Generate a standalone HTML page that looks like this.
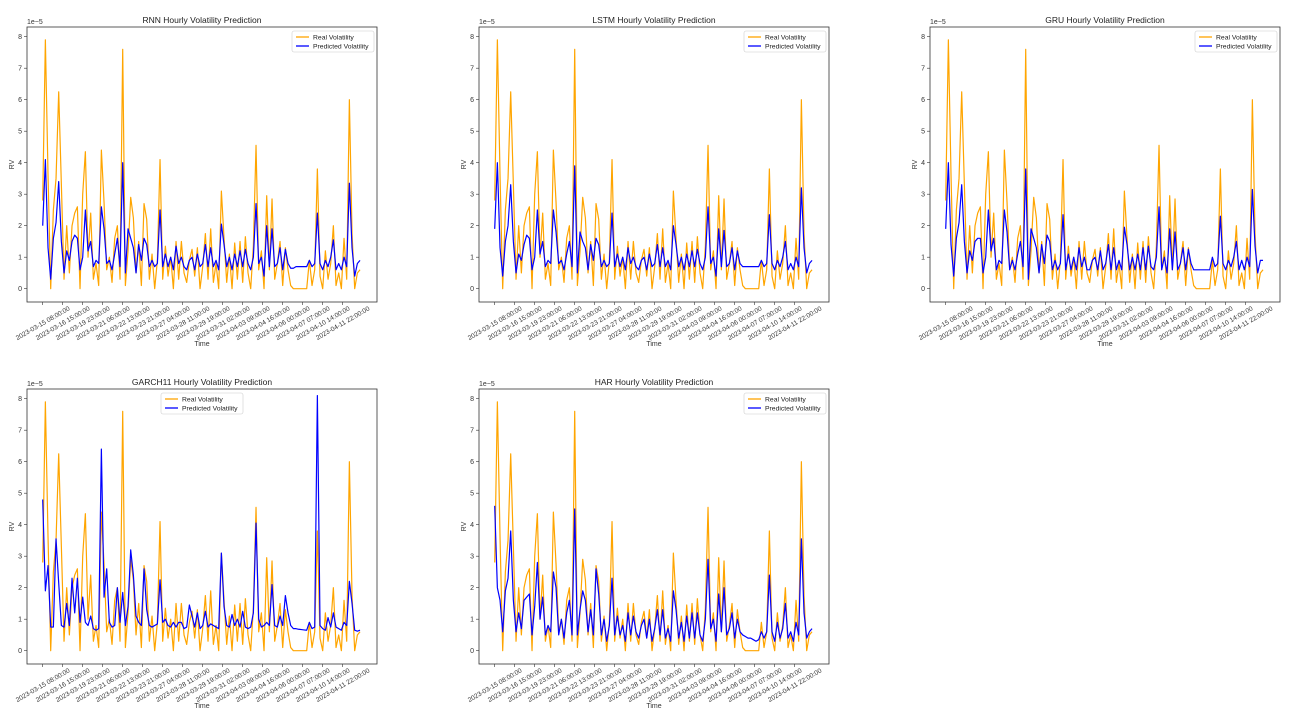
<!DOCTYPE html>
<html><head><meta charset="utf-8">
<style>
html,body{margin:0;padding:0;background:#fff;}
svg{display:block;font-family:"Liberation Sans",sans-serif;}
</style></head>
<body>
<svg id="fig" width="1290" height="720" viewBox="0 0 1290 720" xmlns="http://www.w3.org/2000/svg"></svg>
<script>
// hourly index step = 4 hours per point
const stepHours = 4;
const realVol = [2.8,7.9,3.6,0.0,2.5,3.5,6.25,3.3,0.3,2.0,0.5,2.0,2.4,2.6,0.0,3.0,4.35,1.0,2.4,0.3,0.8,0.1,4.4,2.75,0.6,1.0,0.2,1.6,2.0,0.3,7.6,0.1,1.2,2.9,2.25,0.5,1.5,0.1,2.7,2.2,0.3,1.1,0.0,0.9,4.1,0.3,1.35,0.4,1.0,0.0,1.5,0.3,1.5,0.5,0.2,0.9,1.25,0.4,1.3,0.0,0.7,1.75,0.3,1.9,0.2,0.8,0.0,3.1,1.6,0.2,1.1,0.0,1.45,0.3,1.5,0.2,1.65,0.5,0.0,1.35,4.55,0.6,1.2,0.0,2.95,0.6,2.85,0.3,0.8,1.5,0.1,1.3,0.6,0.1,0.0,0.0,0.0,0.0,0.0,0.0,0.9,0.1,0.6,3.8,0.4,0.0,1.2,0.3,0.8,2.0,0.1,0.5,0.0,1.6,0.3,6.0,1.75,0.0,0.5,0.6];
const rnnPred = [2.0,4.1,1.3,0.3,1.6,2.1,3.4,1.5,0.5,1.2,0.9,1.5,1.7,1.6,0.6,1.0,2.5,1.2,1.5,0.7,0.9,0.8,2.6,1.9,0.8,0.9,0.6,1.1,1.6,0.7,4.0,0.5,1.9,1.6,1.3,0.5,1.4,0.9,1.6,1.4,0.7,0.9,0.7,0.8,2.5,0.7,1.1,0.7,1.0,0.6,1.35,0.8,1.0,0.7,0.6,0.9,1.0,0.6,1.1,0.7,0.8,1.4,0.7,1.3,0.7,0.9,0.6,2.05,1.4,0.7,1.0,0.6,1.1,0.7,1.2,0.7,1.25,0.8,0.6,1.0,2.7,0.8,1.0,0.4,2.0,0.7,1.9,0.7,0.8,1.3,0.6,1.25,0.8,0.65,0.65,0.7,0.7,0.7,0.7,0.7,0.9,0.7,0.8,2.4,0.8,0.6,0.9,0.7,1.0,1.55,0.6,0.8,0.6,1.0,0.7,3.35,1.3,0.4,0.8,0.9];
const lstmPred = [1.9,4.0,1.3,0.4,1.5,2.0,3.3,1.5,0.5,1.1,0.9,1.4,1.7,1.6,0.6,1.0,2.5,1.1,1.5,0.7,0.9,0.8,2.5,1.8,0.8,0.9,0.6,1.1,1.5,0.7,3.9,0.5,1.8,1.5,1.3,0.6,1.4,0.9,1.6,1.4,0.7,0.9,0.7,0.8,2.4,0.7,1.1,0.7,1.0,0.6,1.3,0.8,1.0,0.7,0.6,0.9,1.0,0.6,1.1,0.7,0.8,1.4,0.7,1.3,0.7,0.9,0.6,2.0,1.4,0.7,1.0,0.6,1.1,0.7,1.2,0.7,1.25,0.8,0.6,1.0,2.6,0.8,1.0,0.4,1.9,0.7,1.85,0.7,0.8,1.3,0.6,1.2,0.8,0.7,0.7,0.7,0.7,0.7,0.7,0.7,0.9,0.7,0.8,2.35,0.8,0.6,0.9,0.7,1.0,1.5,0.6,0.8,0.6,1.0,0.7,3.2,1.3,0.5,0.8,0.9];
const gruPred = [1.9,4.0,1.4,0.4,1.6,2.1,3.3,1.5,0.5,1.2,0.9,1.5,1.6,1.6,0.5,1.0,2.5,1.2,1.6,0.6,0.9,0.8,2.5,1.8,0.6,0.9,0.6,1.1,1.5,0.7,3.8,0.3,1.9,1.6,1.3,0.5,1.4,0.8,1.7,1.5,0.6,0.9,0.6,0.8,2.35,0.6,1.1,0.6,1.0,0.6,1.3,0.7,1.0,0.6,0.6,0.9,1.0,0.6,1.2,0.6,0.8,1.4,0.6,1.3,0.6,0.9,0.6,1.95,1.4,0.6,1.0,0.6,1.1,0.6,1.3,0.6,1.35,0.7,0.6,1.0,2.6,0.6,1.0,0.5,1.9,0.6,1.8,0.6,0.8,1.3,0.6,1.25,0.8,0.6,0.6,0.6,0.6,0.6,0.6,0.6,1.0,0.7,0.8,2.3,0.8,0.6,0.9,0.7,1.0,1.5,0.6,0.9,0.6,1.0,0.7,3.15,1.35,0.5,0.9,0.9];
const garchPred = [4.8,1.9,2.7,0.75,0.75,3.55,2.15,0.8,0.75,1.5,0.8,2.3,1.2,2.3,0.9,1.7,0.9,0.8,1.1,0.7,0.65,0.7,6.4,1.7,2.6,0.9,0.75,0.8,2.0,0.9,1.85,0.8,1.4,3.2,2.4,1.1,0.9,0.8,2.6,1.3,0.8,0.75,0.8,0.85,2.25,0.9,1.0,0.8,0.75,0.9,0.75,0.9,0.9,0.7,0.75,1.45,1.1,0.75,1.2,0.7,0.8,1.25,0.75,0.85,0.8,0.75,0.7,3.1,1.4,0.8,0.75,1.15,0.8,1.0,0.75,1.25,0.75,0.7,0.75,1.2,4.05,1.0,0.75,0.8,0.9,0.8,2.1,0.8,0.75,1.1,0.8,1.75,1.2,0.8,0.7,0.7,0.68,0.67,0.66,0.65,0.9,0.7,0.75,8.1,0.8,0.7,0.65,1.05,0.75,1.2,0.75,0.7,0.65,0.9,0.8,2.2,1.5,0.65,0.62,0.65];
const harPred = [4.6,2.0,1.6,0.6,1.9,2.3,3.8,1.6,0.6,1.2,0.7,1.6,1.7,1.8,0.5,1.4,2.8,1.0,1.7,0.5,0.8,0.6,2.5,2.0,0.5,1.0,0.4,1.2,1.6,0.5,4.5,0.5,1.3,1.9,1.6,0.6,1.3,0.5,2.6,1.8,0.5,1.0,0.3,0.8,2.3,0.5,1.1,0.5,0.8,0.3,1.2,0.5,1.1,0.6,0.4,0.8,1.0,0.4,1.0,0.3,0.7,1.3,0.5,1.3,0.4,0.7,0.3,1.9,1.3,0.4,0.9,0.3,1.1,0.4,1.2,0.4,1.2,0.5,0.3,1.0,2.9,0.7,1.0,0.3,1.8,0.6,2.0,0.5,0.7,1.2,0.4,1.0,0.6,0.5,0.45,0.4,0.4,0.35,0.3,0.35,0.6,0.4,0.6,2.4,0.6,0.3,0.9,0.4,0.7,1.5,0.4,0.6,0.3,0.9,0.5,3.55,1.2,0.4,0.6,0.7];
const tickLabels = ["2023-03-15 08:00:00","2023-03-16 15:00:00","2023-03-19 23:00:00","2023-03-21 06:00:00","2023-03-22 13:00:00","2023-03-23 21:00:00","2023-03-27 04:00:00","2023-03-28 11:00:00","2023-03-29 19:00:00","2023-03-31 02:00:00","2023-04-03 09:00:00","2023-04-04 16:00:00","2023-04-06 00:00:00","2023-04-07 07:00:00","2023-04-10 14:00:00","2023-04-11 22:00:00"];
const tickHours = [0,30,60,90,120,150,180,210,240,270,300,330,360,390,420,450];
const yTicks = [0,1,2,3,4,5,6,7,8];

const NS="http://www.w3.org/2000/svg";
const fig=document.getElementById('fig');
function mk(tag,attrs,parent){const e=document.createElementNS(NS,tag);for(const k in attrs)e.setAttribute(k,attrs[k]);(parent||fig).appendChild(e);return e;}

function panel(ox,oy,title,pred,legendCenter,key){
  const g=mk('g',{transform:`translate(${ox},${oy})`});
  
  
  const L=27,R=377,T=27,B=302;
  const xs=h=>42.7+h*(20/30);
  const ys=v=>288.7-v*31.5;
  const box=mk('rect',{x:L,y:T,width:R-L,height:B-T,fill:'#fff',stroke:'#333','stroke-width':0.8},g);
  
  
  const t=mk('text',{x:(L+R)/2,y:T-4,'text-anchor':'middle','font-size':8.5,fill:'#222'},g);t.textContent=title;
  
  
  yTicks.forEach(v=>{
    mk('line',{x1:L-3,x2:L,y1:ys(v),y2:ys(v),stroke:'#333','stroke-width':0.6},g);
    const tl=mk('text',{x:L-5,y:ys(v)+2.5,'text-anchor':'end','font-size':7,fill:'#333'},g);tl.textContent=v;
    
    
  });
  const ex=mk('text',{x:L,y:T-3,'font-size':7,fill:'#333'},g);ex.textContent='1e\u22125';
  
  
  const yl=mk('text',{x:14,y:(T+B)/2,'text-anchor':'middle','font-size':7,fill:'#333',transform:`rotate(-90 14 ${(T+B)/2})`},g);yl.textContent='RV';
  
  
  tickHours.forEach((h,i)=>{
    const x=xs(h);
    mk('line',{x1:x,x2:x,y1:B,y2:B+3,stroke:'#333','stroke-width':0.6},g);
    const cy=B+21;
    const tl=mk('text',{x:x,y:cy+2.3,'text-anchor':'middle','font-size':6.6,fill:'#333',transform:`rotate(-30 ${x} ${cy})`},g);
    tl.textContent=tickLabels[i];
    
    
  });
  const xl=mk('text',{x:(L+R)/2,y:346,'text-anchor':'middle','font-size':7,fill:'#333'},g);xl.textContent='Time';
  
  
  const line=(arr,color,name)=>{
    const p=mk('polyline',{points:arr.map((v,i)=>xs(i*stepHours).toFixed(2)+','+ys(v).toFixed(2)).join(' '),fill:'none',stroke:color,'stroke-width':1.2,'stroke-linejoin':'round'},g);
    
    
  };
  line(realVol,'orange',key+'-real-line');
  line(pred,'blue',key+'-pred-line');
  const lw=82,lh=21;
  const lx=legendCenter?(L+R)/2-lw/2:R-3-lw, ly=T+4;
  const lg=mk('g',{},g);
  
  
  mk('rect',{x:lx,y:ly,width:lw,height:lh,fill:'#fff',stroke:'#ccc','stroke-width':0.6,rx:2},lg);
  [['Real Volatility','orange'],['Predicted Volatility','blue']].forEach((e,i)=>{
    const yy=ly+6+i*9;
    mk('line',{x1:lx+4,x2:lx+17,y1:yy,y2:yy,stroke:e[1],'stroke-width':1.3},lg);
    const tx=mk('text',{x:lx+21,y:yy+2.5,'font-size':6.8,fill:'#222'},lg);tx.textContent=e[0];
    
    
  });
}
panel(0,0,'RNN Hourly Volatility Prediction',rnnPred,false,'rnn');
panel(452,0,'LSTM Hourly Volatility Prediction',lstmPred,false,'lstm');
panel(903,0,'GRU Hourly Volatility Prediction',gruPred,false,'gru');
panel(0,362,'GARCH11 Hourly Volatility Prediction',garchPred,true,'garch');
panel(452,362,'HAR Hourly Volatility Prediction',harPred,false,'har');
</script>
</body></html>
